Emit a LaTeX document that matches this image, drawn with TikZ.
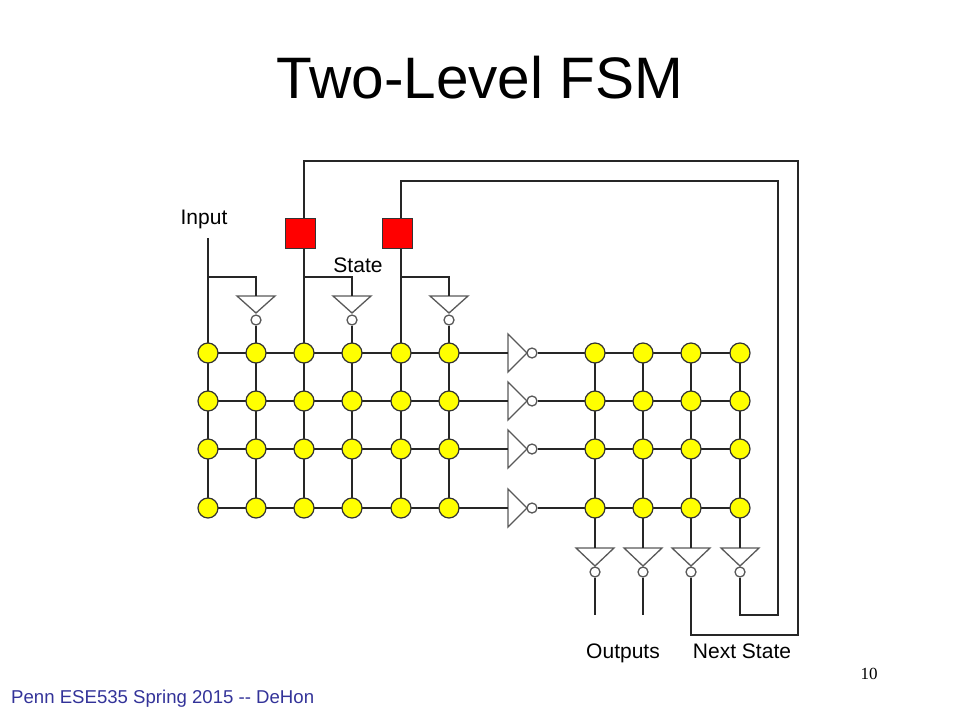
\documentclass[tikz,border=0pt]{standalone}
\usepackage{fontspec}
\setmainfont{Liberation Sans}
\newfontfamily\numfont{Liberation Serif}
\usetikzlibrary{positioning}
\definecolor{pennblue}{RGB}{51,51,153}
\definecolor{dotyellow}{RGB}{255,255,0}
\definecolor{regred}{RGB}{255,0,0}

\begin{document}
\begin{tikzpicture}[x=1pt,y=-1pt,
  wire/.style={line width=1.6pt,black!85},
  dot/.style={circle,draw=black!80,fill=dotyellow,line width=1.2pt,minimum size=20pt,inner sep=0pt},
  inv/.style={draw=black!65,line width=1.3pt,fill=white,line join=miter},
  bub/.style={circle,draw=black!65,fill=white,line width=1.3pt,minimum size=10pt,inner sep=0pt},
  reg/.style={draw=black!80,fill=regred,line width=1pt,minimum size=30pt,inner sep=0pt},
  lbl/.style={font=\fontsize{21}{24}\selectfont,inner sep=0pt,anchor=base}]
\useasboundingbox (0,0) rectangle (960,720);

% grid points
\foreach \c/\x in {1/208,2/256,3/304,4/352,5/401,6/449,7/595,8/643,9/691,10/740}
  \foreach \r/\y in {1/353,2/401,3/449,4/508}
    \coordinate (p-\c-\r) at (\x,\y);

% inverters above the left plane
\foreach \c/\x in {2/256,4/352,6/449} {
  \draw[inv] (\x-19,296) -- (\x+19,296) -- (\x,313) -- cycle;
  \coordinate (ti-\c) at (\x,296);
  \node[bub] (tb-\c) at (\x,320) {};
}
% inverters between the planes
\foreach \r/\y in {1/353,2/401,3/449,4/508} {
  \draw[inv] (508,\y-19) -- (508,\y+19) -- (527,\y) -- cycle;
  \coordinate (mi-\r) at (508,\y);
  \node[bub] (mb-\r) at (532,\y) {};
}
% inverters below the right plane
\foreach \c/\x in {7/595,8/643,9/691,10/740} {
  \draw[inv] (\x-19,548) -- (\x+19,548) -- (\x,566) -- cycle;
  \coordinate (bi-\c) at (\x,548);
  \node[bub] (bb-\c) at (\x,572) {};
}

% end points and corners
\coordinate (in) at (208,238);
\coordinate (br-1) at (208,277);
\coordinate (br-3) at (304,277);
\coordinate (br-5) at (401,277);
\coordinate (ns-1) at (798,635);
\coordinate (ns-2) at (778,615);
\coordinate (top-1) at (304,161);
\coordinate (top-2) at (401,181);
\coordinate (out-7) at (595,615);
\coordinate (out-8) at (643,615);

% wires
\foreach \r in {1,2,3,4} {
  \draw[wire] (p-1-\r) -- (mi-\r);
  \draw[wire] (mb-\r.east) -- (p-10-\r);
}
\draw[wire] (in) -- (p-1-4);
\draw[wire] (br-1) -| (ti-2);
\draw[wire] (br-3) -| (ti-4);
\draw[wire] (br-5) -| (ti-6);
\foreach \c in {2,4,6}
  \draw[wire] (tb-\c.south) -- (p-\c-4);
\foreach \c in {7,8,9,10}
  \draw[wire] (p-\c-1) -- (bi-\c);
\draw[wire] (bb-7.south) -- (out-7);
\draw[wire] (bb-8.south) -- (out-8);
\draw[wire] (bb-9.south) |- (ns-1) |- (top-1) -- (p-3-4);
\draw[wire] (bb-10.south) |- (ns-2) |- (top-2) -- (p-5-4);

% state registers
\node[reg] (st-1) at (300,233) {};
\node[reg] (st-2) at (397,233) {};

% crosspoints
\foreach \c in {1,...,10}
  \foreach \r in {1,2,3,4}
    \node[dot] (d-\c-\r) at (p-\c-\r) {};

% labels
\node[lbl] (input) at (204,224) {Input};
\node[lbl] (state) at (358,272) {State};
\node[lbl] (outputs) at (623,658) {Outputs};
\node[lbl] (nextstate) at (742,658) {Next State};
\node[font=\fontsize{58.5}{64}\selectfont,inner sep=0pt,anchor=base] (title) at (480,98) {Two-Level FSM};
\node[font=\fontsize{18.6}{21}\selectfont,text=pennblue,inner sep=0pt,anchor=base west] (footer) at (11,703) {Penn ESE535 Spring 2015 {-}{-} DeHon};
\node[font=\numfont\fontsize{17}{20}\selectfont,inner sep=0pt,anchor=base] (pagenum) at (869,679) {10};
\end{tikzpicture}
\end{document}
